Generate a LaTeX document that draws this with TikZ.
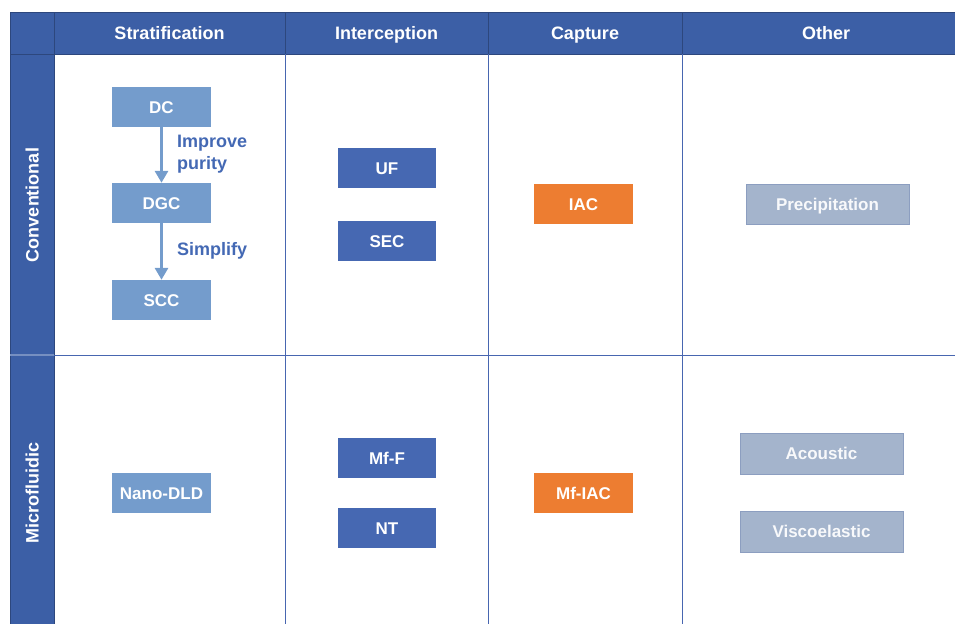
\documentclass[tikz,border=0pt]{standalone}
\usepackage{fontspec}
\setmainfont{Liberation Sans}
\usetikzlibrary{arrows.meta}
\definecolor{hdr}{RGB}{60,95,166}
\definecolor{gridc}{RGB}{72,102,176}
\definecolor{lblue}{RGB}{116,156,204}
\definecolor{dblue}{RGB}{70,104,178}
\definecolor{orng}{RGB}{237,125,49}
\definecolor{gblue}{RGB}{164,180,204}
\definecolor{gedge}{RGB}{140,158,192}
\definecolor{lbltxt}{RGB}{68,105,180}
\tikzset{
  box/.style={rectangle, minimum width=99pt, minimum height=40pt, inner sep=0pt,
    text height=12.3pt, text depth=0pt,
    text=white, font=\fontsize{17}{19}\selectfont\bfseries},
  lightbox/.style={box, fill=lblue},
  darkbox/.style={box, fill=dblue, minimum width=98pt},
  orangebox/.style={box, fill=orng},
  greybox/.style={box, fill=gblue, draw=gedge, line width=0.8pt, minimum width=163pt, text=white!92!gblue},
  headtxt/.style={anchor=base, text=white, font=\fontsize{18}{20}\selectfont\bfseries},
  rowtxt/.style={text=white, rotate=90, text height=13pt, text depth=0pt, font=\fontsize{18}{20}\selectfont\bfseries},
  steplbl/.style={anchor=west, align=left, text=lbltxt, font=\fontsize{18}{22}\selectfont\bfseries, inner sep=0pt},
  flowarrow/.style={draw=lblue, line width=3pt, -{Triangle[width=13pt,length=12pt]}},
  gridline/.style={draw=gridc, line width=1pt}
}
\begin{document}
\begin{tikzpicture}[x=1pt,y=-1pt]
\useasboundingbox (0,0) rectangle (955,624);
% header and left bar
\fill[hdr] (10,12) rectangle (955,54);
\fill[hdr] (10,54) rectangle (54,624);
\draw[draw=black!25!hdr, line width=1pt] (10,12) -- (955,12);
\foreach \x in {54,285,488,682} \draw[draw=black!25!hdr, line width=1pt] (\x,12) -- (\x,54);
\draw[draw=black!25!hdr, line width=1pt] (10,54) -- (955,54);
\draw[draw=black!25!hdr, line width=1pt] (10,12) -- (10,624);
\draw[draw=black!25!hdr, line width=1pt] (54,54) -- (54,624);
% grid
\foreach \x in {285,488,682} \draw[gridline] (\x,54) -- (\x,624);
\draw[gridline] (54,355) -- (955,355);
\draw[draw=white!30!hdr, line width=1.2pt] (10,355) -- (54,355);
% header texts
\node[headtxt] (hstrat) at (169.5,39.5) {Stratification};
\node[headtxt] (hinter) at (386.5,39.5) {Interception};
\node[headtxt] (hcapt) at (585,39.5) {Capture};
\node[headtxt] (hother) at (826,39.5) {Other};
\node[rowtxt] (rconv) at (32,205) {Conventional};
\node[rowtxt] (rmicro) at (32,493) {Microfluidic};
% conventional row
\node[lightbox] (dc) at (161.5,107) {DC};
\node[lightbox] (dgc) at (161.5,203) {DGC};
\node[lightbox] (scc) at (161.5,300) {SCC};
\draw[flowarrow] (dc) -- (dgc);
\draw[flowarrow] (dgc) -- (scc);
\node[steplbl] (l1) at (177,154) {Improve\\purity};
\node[steplbl] (l2) at (177,251) {Simplify};
\node[darkbox] (uf) at (387,168) {UF};
\node[darkbox] (sec) at (387,241) {SEC};
\node[orangebox] (iac) at (583.5,204) {IAC};
\node[greybox] (prec) at (827.5,204) {Precipitation};
% microfluidic row
\node[lightbox] (dld) at (161.5,493) {Nano-DLD};
\node[darkbox] (mff) at (387,458) {Mf-F};
\node[darkbox] (nt) at (387,528) {NT};
\node[orangebox] (mfiac) at (583.5,493) {Mf-IAC};
\node[greybox, minimum height=41pt] (acou) at (821.5,453.5) {Acoustic};
\node[greybox, minimum height=41pt] (visc) at (821.5,531.5) {Viscoelastic};
\end{tikzpicture}
\end{document}
